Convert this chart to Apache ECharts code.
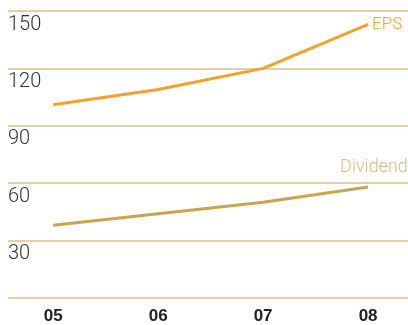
<!DOCTYPE html>
<html><head><meta charset="utf-8">
<style>html,body{margin:0;padding:0;background:#fff}#c{width:408px;height:325px}</style>
<script src="https://cdn.jsdelivr.net/npm/echarts@6/dist/echarts.min.js"></script>
</head><body><div id="c"></div>
<script>
const categories = ['05', '06', '07', '08'];
const epsValues = [101, 109, 120, 143];
const dividendValues = [38, 44, 50, 58];
const yTicks = [0, 30, 60, 90, 120, 150];

const chart = echarts.init(document.getElementById('c'), null, {renderer: 'canvas'});
const toPts = arr => arr.map((v, i) => [i, v]);
chart.setOption({
  animation: false,
  grid: {left: 8, right: 0, top: 11, bottom: 27, containLabel: false},
  xAxis: {
    type: 'value', min: -0.43, max: 3.38,
    axisLine: {show: false}, axisTick: {show: false}, splitLine: {show: false},
    axisLabel: {
      customValues: [0, 1, 2, 3],
      formatter: v => categories[Math.round(v)],
      fontFamily: 'Liberation Sans', fontWeight: 'bold', fontSize: 17, color: '#222', margin: 10
    }
  },
  yAxis: {
    type: 'value', min: yTicks[0], max: yTicks[yTicks.length - 1], interval: 30,
    axisLine: {show: false}, axisTick: {show: false},
    splitLine: {lineStyle: {color: '#d9c08a', width: 1.5}},
    axisLabel: {
      inside: true, margin: 0, align: 'left', verticalAlign: 'top',
      lineHeight: 27,
      formatter: v => v === 0 ? '' : String(v),
      fontFamily: 'Roboto', fontWeight: 300, fontSize: 20, color: '#333'
    }
  },
  series: [
    {
      name: 'EPS', type: 'line', data: toPts(epsValues), symbol: 'none',
      lineStyle: {color: '#f7a12c', width: 3}, itemStyle: {color: '#f7a12c'},
      endLabel: {show: true, formatter: '{a}', color: '#f7a12c', fontFamily: 'Roboto', fontWeight: 300, fontSize: 17, distance: 4}
    },
    {
      name: 'Dividend', type: 'line', data: toPts(dividendValues), symbol: 'none',
      lineStyle: {color: '#c9a550', width: 3}, itemStyle: {color: '#c9a550'},
      endLabel: {show: true, formatter: '{a}', color: '#d6bb84', fontFamily: 'Roboto', fontWeight: 300, fontSize: 18, offset: [-36, -20]}
    }
  ]
});
</script></body></html>
